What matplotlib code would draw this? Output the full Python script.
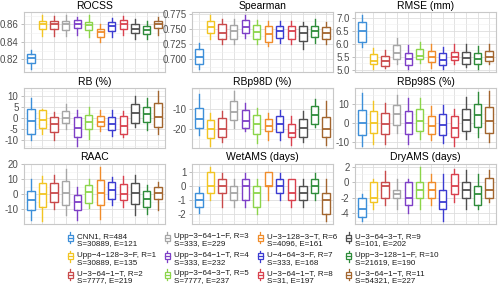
import matplotlib
matplotlib.use("Agg")
import matplotlib.pyplot as plt
from matplotlib.patches import Rectangle
from matplotlib.lines import Line2D
from matplotlib.legend_handler import HandlerBase
from matplotlib.ticker import FixedLocator, AutoMinorLocator, FormatStrFormatter

plt.rcParams['font.family'] = ['Liberation Sans', 'DejaVu Sans']
plt.rcParams['axes.unicode_minus'] = False

labels = [
    "CNN1, R=484\nS=30889, E=121",
    "Upp\u22124\u2212128\u22123\u2212F, R=1\nS=30889, E=135",
    "U\u22123\u221264\u22121\u2212T, R=2\nS=7777, E=219",
    "Upp\u22123\u221264\u22121\u2212F, R=3\nS=333, E=229",
    "Upp\u22123\u221264\u22121\u2212T, R=4\nS=333, E=232",
    "Upp\u22123\u221264\u22123\u2212T, R=5\nS=7777, E=237",
    "U\u22123\u2212128\u22123\u2212T, R=6\nS=4096, E=161",
    "U\u22124\u221264\u22123\u2212F, R=7\nS=333, E=168",
    "U\u22123\u221264\u22121\u2212T, R=8\nS=31, E=197",
    "U\u22123\u221264\u22123\u2212T, R=9\nS=101, E=202",
    "Upp\u22123\u2212128\u22121\u2212F, R=10\nS=21619, E=190",
    "U\u22123\u221264\u22121\u2212T, R=11\nS=54321, E=227",
]
colors = ["#3D8FD9", "#F2C522", "#C94A4B", "#A6A6A6", "#7E3FC7", "#8CD54A",
          "#F08C2A", "#3B3BD1", "#D9414E", "#4F4F4F", "#2E8C3A", "#A2652E"]

# (whisker low, q1, median, q3, whisker high)
rocss = [(0.8088, 0.8155, 0.8215, 0.8264, 0.831), (0.847, 0.8544, 0.860, 0.8637, 0.8705),
         (0.8473, 0.8548, 0.8604, 0.8637, 0.8697), (0.847, 0.854, 0.860, 0.864, 0.871),
         (0.848, 0.8555, 0.8607, 0.865, 0.869), (0.8454, 0.8536, 0.8589, 0.863, 0.8705),
         (0.8394, 0.8458, 0.851, 0.8551, 0.861), (0.8458, 0.853, 0.8585, 0.8626, 0.8675),
         (0.8477, 0.8551, 0.8607, 0.865, 0.8697), (0.8439, 0.8499, 0.8548, 0.8604, 0.8664),
         (0.8432, 0.8492, 0.8536, 0.8585, 0.8637), (0.8484, 0.8559, 0.8607, 0.864, 0.869)]
spearman = [(0.6833, 0.6924, 0.7043, 0.7167, 0.7263), (0.7328, 0.7435, 0.7532, 0.7634, 0.7731),
            (0.7247, 0.7328, 0.743, 0.7586, 0.7661), (0.7247, 0.7339, 0.7468, 0.757, 0.7667),
            (0.7344, 0.7435, 0.7527, 0.764, 0.772), (0.7247, 0.7339, 0.7452, 0.7565, 0.765),
            (0.722, 0.7285, 0.7419, 0.7543, 0.7624), (0.7263, 0.7355, 0.7457, 0.7554, 0.7624),
            (0.7247, 0.7328, 0.7462, 0.7554, 0.7624), (0.7167, 0.7301, 0.7435, 0.7543, 0.7613),
            (0.7274, 0.7366, 0.7462, 0.7554, 0.7661), (0.7247, 0.7339, 0.7435, 0.7527, 0.7608)]
rmse = [(5.87, 6.08, 6.48, 6.84, 7.12), (5.02, 5.21, 5.35, 5.62, 5.85),
        (5.08, 5.15, 5.32, 5.55, 5.78), (5.21, 5.40, 5.63, 5.94, 6.23),
        (5.02, 5.20, 5.40, 5.63, 5.97), (5.27, 5.40, 5.55, 5.81, 6.06),
        (5.08, 5.30, 5.50, 5.72, 6.01), (5.02, 5.18, 5.38, 5.63, 5.87),
        (5.21, 5.36, 5.50, 5.69, 6.00), (5.11, 5.24, 5.46, 5.69, 6.00),
        (5.02, 5.21, 5.40, 5.66, 5.91), (5.21, 5.32, 5.49, 5.72, 6.00)]
rb = [(-9.9, -7.3, -1.3, 4.1, 9.3), (-7.3, -4.3, -0.6, 3.7, 4.4),
      (-9.9, -6.2, -2.5, 0.7, 3.0), (-4.7, -2.1, 0.1, 3.1, 6.4),
      (-12.4, -8.7, -4.3, 0.4, 3.7), (-9.6, -4.7, -1.8, 1.5, 5.3),
      (-5.9, -3.7, -1.5, 1.2, 3.8), (-8.0, -5.5, -2.7, 0.4, 3.7),
      (-8.7, -7.0, -3.3, 1.2, 3.4), (-4.0, -2.1, 2.2, 6.4, 10.1),
      (-5.5, -1.8, 1.9, 5.3, 9.0), (-7.0, -4.0, 0.4, 6.8, 12.3)]
rbp98d = [(-22.9, -19.4, -14.8, -9.7, -2.3), (-28.1, -24.2, -19.7, -15.2, -11.9),
          (-26.5, -24.0, -19.7, -14.5, -10.8), (-19.4, -15.3, -11.3, -6.0, -1.1),
          (-20.8, -19.4, -16.1, -10.5, -7.1), (-26.9, -22.4, -17.3, -12.9, -9.5),
          (-25.3, -20.8, -18.4, -14.8, -11.9), (-25.3, -21.6, -17.3, -13.2, -10.3),
          (-27.7, -24.0, -21.8, -17.3, -13.5), (-26.5, -23.7, -19.2, -14.8, -10.8),
          (-18.9, -17.3, -12.7, -8.7, -5.2), (-27.7, -24.0, -20.0, -14.0, -6.0)]
rbp98s = [(-11.7, -6.1, 0.0, 7.3, 16.2), (-11.0, -5.2, 0.3, 6.4, 11.7),
          (-10.8, -5.7, -0.5, 5.6, 11.0), (-5.2, -0.9, 4.7, 9.9, 14.8),
          (-10.8, -5.7, 0.3, 6.6, 13.4), (-8.2, -4.0, 1.2, 7.5, 13.4),
          (-8.7, -5.7, -1.2, 3.8, 9.0), (-10.4, -6.1, -0.9, 5.2, 9.6),
          (-11.7, -7.3, -2.3, 3.8, 7.8), (-8.2, -3.8, 1.7, 7.8, 13.9),
          (-7.0, -1.7, 4.3, 10.4, 16.5), (-9.9, -5.2, 1.2, 8.7, 17.0)]
raac = [(-17.0, -10.4, -3.5, 2.0, 10.2), (-18.0, -8.3, 0.4, 7.4, 12.4),
        (-10.0, -5.4, 1.1, 7.4, 12.8), (-14.1, -7.2, 0.9, 9.1, 16.7),
        (-17.4, -10.4, -5.0, -0.7, 4.8), (-9.3, -5.7, 1.5, 6.5, 10.2),
        (-16.5, -7.2, 0.9, 9.8, 18.5), (-7.2, -2.8, 2.6, 8.0, 11.3),
        (-8.3, -3.9, 0.0, 7.0, 12.4), (-14.1, -6.7, 0.9, 7.4, 12.8),
        (-13.0, -8.7, -3.3, 2.0, 6.5), (-10.4, -2.8, 0.9, 4.8, 8.0)]
wetams = [(-1.94, -1.48, -1.0, -0.5, -0.05), (-1.0, -0.5, 0.0, 1.0, 1.35),
          (-1.5, -0.5, 0.0, 0.5, 0.9), (-1.5, -1.0, -0.5, 0.0, 0.5),
          (-1.5, -1.0, 0.0, 0.5, 0.9), (-2.0, -1.5, -0.5, 0.0, 0.5),
          (-1.0, 0.0, 0.0, 1.0, 1.0), (-1.0, -0.5, 0.0, 0.5, 0.9),
          (-1.5, -1.0, -0.5, 0.5, 0.5), (-1.5, -1.0, -0.5, 0.0, 0.5),
          (-1.0, -0.5, 0.0, 0.5, 0.9), (-2.5, -2.0, -1.0, -0.5, 0.5)]
dryams = [(-5.05, -4.5, -3.5, -2.0, -1.5), (-3.5, -2.5, -2.0, 0.0, 0.4),
          (-3.0, -2.0, -0.5, 0.0, 1.4), (-3.5, -2.0, -1.5, -1.0, 0.4),
          (-4.0, -3.0, -2.0, 0.0, 0.4), (-3.5, -2.0, -1.0, 0.0, 2.0),
          (-3.0, -2.0, -1.0, 0.0, 1.0), (-5.0, -3.5, -2.5, -1.0, 1.0),
          (-2.5, -1.5, -0.5, 1.0, 1.7), (-3.5, -2.0, -1.0, 0.0, 1.5),
          (-3.5, -3.0, -1.5, -0.5, 1.0), (-2.5, -2.0, -1.0, 0.5, 1.5)]

panels = [
    ("ROCSS", rocss, [0.82, 0.84, 0.86], "%.2f"),
    ("Spearman", spearman, [0.700, 0.725, 0.750, 0.775], "%.3f"),
    ("RMSE (mm)", rmse, [5.0, 5.5, 6.0, 6.5, 7.0], "%.1f"),
    ("RB (%)", rb, [-10, -5, 0, 5, 10], "%d"),
    ("RBp98D (%)", rbp98d, [-20, -10], "%d"),
    ("RBp98S (%)", rbp98s, [-10, 0, 10], "%d"),
    ("RAAC", raac, [-20, -10, 0, 10, 20], "%d"),
    ("WetAMS (days)", wetams, [-2, -1, 0, 1], "%d"),
    ("DryAMS (days)", dryams, [-4, -2, 0, 2], "%d"),
]

fig = plt.figure(figsize=(5.0, 2.88), dpi=100)
lefts = [0.048, 0.384, 0.710]
width = 0.282
rows = [(0.750, 0.958), (0.485, 0.693), (0.222, 0.431)]

for i, (title, data, ticks, fmt) in enumerate(panels):
    r, c = divmod(i, 3)
    b, t = rows[r]
    ax = fig.add_axes([lefts[c], b, width, t - b])
    for k, (lo, q1, med, q3, hi) in enumerate(data):
        col = colors[k]
        s = dict(whislo=lo, q1=q1, med=med, q3=q3, whishi=hi, fliers=[])
        ax.bxp([s], positions=[k], widths=0.62, showfliers=False, showcaps=False,
               patch_artist=True,
               boxprops=dict(facecolor="white", edgecolor=col, linewidth=1.0),
               whiskerprops=dict(color=col, linewidth=1.0),
               medianprops=dict(color=col, linewidth=1.3), zorder=3)
    lo_all = min(d[0] for d in data)
    hi_all = max(d[4] for d in data)
    pad = 0.05 * (hi_all - lo_all)
    ax.set_ylim(lo_all - pad, hi_all + pad)
    ax.set_xlim(-0.6, len(data) - 0.4)
    ax.yaxis.set_major_locator(FixedLocator(ticks))
    ax.yaxis.set_major_formatter(FormatStrFormatter(fmt))
    ax.yaxis.set_minor_locator(AutoMinorLocator(2))
    ax.set_xticks(range(len(data)))
    ax.set_xticklabels([])
    ax.tick_params(axis='x', length=0)
    ax.tick_params(axis='y', which='major', length=2.5, width=0.6, color="#B3B3B3",
                   labelsize=7, labelcolor="#4D4D4D", pad=1.5)
    ax.tick_params(axis='y', which='minor', length=0)
    ax.grid(True, which='major', color="#DEDEDE", linewidth=0.6, zorder=0)
    ax.grid(True, which='minor', axis='y', color="#EFEFEF", linewidth=0.4, zorder=0)
    ax.set_axisbelow(True)
    for sp in ax.spines.values():
        sp.set_color("#C8C8C8")
        sp.set_linewidth(0.8)
    ax.set_title(title, fontsize=7.5, pad=2.5, color="black")

LEG_FS = 5.8


class BoxHandler(HandlerBase):
    shift = 0.3

    def create_artists(self, legend, orig_handle, xdescent, ydescent, width, height,
                       fontsize, trans):
        col = orig_handle.get_color()
        cx = -xdescent + width / 2.0
        cy = -ydescent + height / 2.0 + self.shift * fontsize
        bw, bh, wh = 3.6, 4.3, 7.7
        vline = Line2D([cx, cx], [cy - wh / 2, cy + wh / 2], color=col, lw=0.9,
                       transform=trans)
        rect = Rectangle((cx - bw / 2, cy - bh / 2), bw, bh, facecolor="white",
                         edgecolor=col, lw=0.9, transform=trans)
        med = Line2D([cx - bw / 2, cx + bw / 2], [cy, cy], color=col, lw=0.9,
                     transform=trans)
        return [vline, rect, med]


handles = [Line2D([], [], color=col) for col in colors]
leg = fig.legend(handles, labels, loc="lower left", bbox_to_anchor=(0.132, 0.012),
                 ncol=4, frameon=False, fontsize=LEG_FS,
                 handler_map={Line2D: BoxHandler()},
                 handlelength=1.0, handleheight=2.0, handletextpad=0.35,
                 columnspacing=0.9, labelspacing=0.5, borderpad=0.0, borderaxespad=0.0)
for t in leg.get_texts():
    t.set_linespacing(1.1)
    t.set_color("#1A1A1A")

fig.savefig("out.png", dpi=100)
